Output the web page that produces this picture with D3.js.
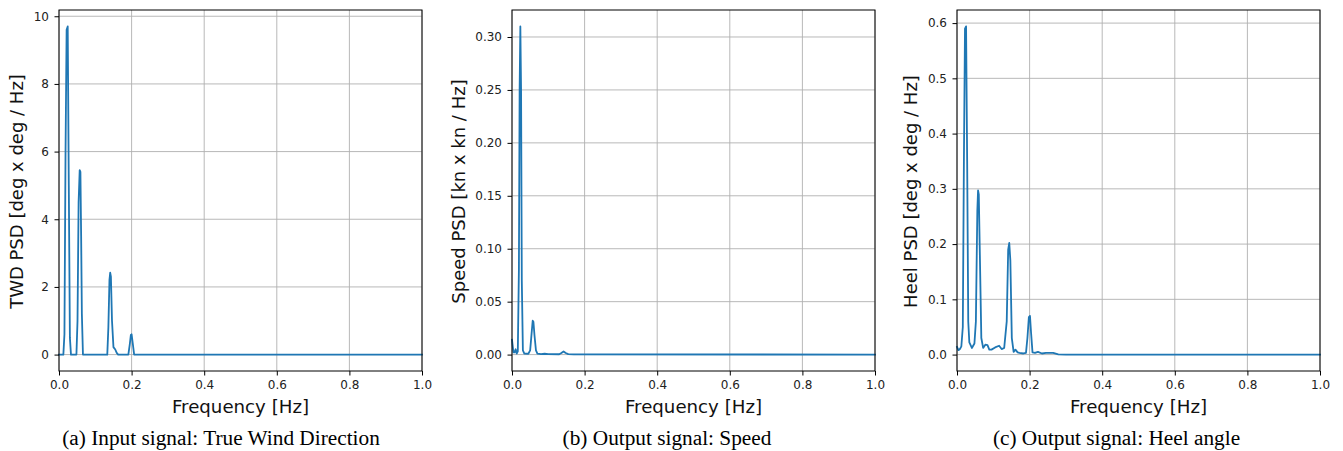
<!DOCTYPE html>
<html><head><meta charset="utf-8">
<script src="https://cdn.jsdelivr.net/npm/d3@7"></script>
<style>
html,body{margin:0;padding:0;background:#fff;}
svg{display:block;}
</style></head>
<body>
<svg id="chart" width="1343" height="451"></svg>
<script>
// ---- data ----
const xTicks = [0, 0.2, 0.4, 0.6, 0.8, 1.0];

const freqTWD = [0, 0.012, 0.015, 0.018, 0.021, 0.024, 0.027, 0.030, 0.033, 0.048, 0.051, 0.054, 0.057, 0.059, 0.061, 0.063, 0.066, 0.133, 0.136, 0.139, 0.141, 0.143, 0.146, 0.150, 0.155, 0.159, 0.163, 0.191, 0.195, 0.198, 0.200, 0.203, 0.207, 1.0];
const psdTWD  = [0, 0, 0.6, 6.0, 9.6, 9.7, 5.0, 0.5, 0, 0, 1.0, 4.5, 5.45, 5.4, 3.5, 1.2, 0, 0, 0.8, 2.2, 2.42, 2.3, 1.0, 0.22, 0.15, 0.05, 0, 0, 0.3, 0.58, 0.6, 0.35, 0, 0];
const yTicksTWD = [0, 2, 4, 6, 8, 10];

const freqSpeed = [0, 0.004, 0.007, 0.010, 0.013, 0.016, 0.019, 0.021, 0.023, 0.025, 0.027, 0.030, 0.034, 0.045, 0.050, 0.054, 0.057, 0.059, 0.062, 0.066, 0.070, 0.080, 0.090, 0.100, 0.130, 0.136, 0.142, 0.148, 0.155, 0.170, 1.0];
const psdSpeed  = [0.014, 0.002, 0.002, 0.005, 0.001, 0.003, 0.08, 0.25, 0.31, 0.25, 0.07, 0.004, 0.001, 0.0008, 0.004, 0.02, 0.032, 0.031, 0.018, 0.004, 0.001, 0.0005, 0.0008, 0.0005, 0.0003, 0.0015, 0.003, 0.0015, 0.0005, 0.0002, 0];
const yTicksSpeed = [0, 0.05, 0.10, 0.15, 0.20, 0.25, 0.30];

const freqHeel = [0, 0.004, 0.008, 0.012, 0.016, 0.019, 0.022, 0.025, 0.028, 0.031, 0.034, 0.041, 0.048, 0.052, 0.056, 0.058, 0.060, 0.063, 0.067, 0.072, 0.078, 0.084, 0.089, 0.095, 0.105, 0.116, 0.123, 0.130, 0.137, 0.141, 0.144, 0.147, 0.151, 0.156, 0.161, 0.167, 0.172, 0.183, 0.190, 0.194, 0.198, 0.201, 0.204, 0.208, 0.215, 0.223, 0.234, 0.245, 0.252, 0.265, 0.279, 0.300, 1.0];
const psdHeel  = [0.014, 0.008, 0.010, 0.015, 0.05, 0.35, 0.59, 0.594, 0.35, 0.06, 0.022, 0.012, 0.02, 0.06, 0.26, 0.297, 0.29, 0.18, 0.03, 0.012, 0.018, 0.017, 0.009, 0.009, 0.013, 0.016, 0.010, 0.012, 0.06, 0.19, 0.202, 0.17, 0.03, 0.005, 0.009, 0.004, 0.003, 0.002, 0.003, 0.03, 0.068, 0.07, 0.04, 0.004, 0.003, 0.005, 0.002, 0.003, 0.003, 0.003, 0.0005, 0, 0];
const yTicksHeel = [0, 0.1, 0.2, 0.3, 0.4, 0.5, 0.6];

const yLabels = ["TWD PSD [deg x deg / Hz]", "Speed PSD [kn x kn / Hz]", "Heel PSD [deg x deg / Hz]"];
const captions = ["(a) Input signal: True Wind Direction", "(b) Output signal: Speed", "(c) Output signal: Heel angle"];
const xLabel = "Frequency [Hz]";

// ---- drawing ----
(function () {
const svg = d3.select("#chart");
const panels = [
  {f: freqTWD, v: psdTWD, ticks: yTicksTWD, fmt: d3.format("d"), left: 59, ylabX: 23, capX: 221},
  {f: freqSpeed, v: psdSpeed, ticks: yTicksSpeed, fmt: d3.format(".2f"), left: 512, ylabX: 464.5, capX: 667},
  {f: freqHeel, v: psdHeel, ticks: yTicksHeel, fmt: d3.format(".1f"), left: 957, ylabX: 916.5, capX: 1116.5}
];
const W = 363, plotTop = 10, plotBottom = 371;

panels.forEach((p, i) => {
  const x = d3.scaleLinear().domain([0, 1]).range([p.left, p.left + W]);
  const mn = d3.min(p.v), mx = d3.max(p.v), m = (mx - mn) * 0.05;
  const y = d3.scaleLinear().domain([mn - m, mx + m]).range([plotBottom, plotTop]);
  const g = svg.append("g");

  // grid
  g.append("g").selectAll("line").data(xTicks).join("line")
    .attr("x1", d => x(d)).attr("x2", d => x(d)).attr("y1", plotTop).attr("y2", plotBottom)
    .attr("stroke", "#b0b0b0").attr("stroke-width", 0.9);
  g.append("g").selectAll("line").data(p.ticks).join("line")
    .attr("x1", p.left).attr("x2", p.left + W).attr("y1", d => y(d)).attr("y2", d => y(d))
    .attr("stroke", "#b0b0b0").attr("stroke-width", 0.9);

  // line
  const pts = p.f.map((f, k) => [f, p.v[k]]);
  g.append("path").datum(pts)
    .attr("d", d3.line().x(d => x(d[0])).y(d => y(d[1])))
    .attr("fill", "none").attr("stroke", "#1f77b4").attr("stroke-width", 1.8)
    .attr("stroke-linejoin", "round").attr("stroke-linecap", "square");

  // axes
  const xa = g.append("g").attr("transform", `translate(0,${plotBottom})`)
    .call(d3.axisBottom(x).tickValues(xTicks).tickFormat(d3.format(".1f")).tickSize(4.5).tickPadding(5));
  const ya = g.append("g").attr("transform", `translate(${p.left},0)`)
    .call(d3.axisLeft(y).tickValues(p.ticks).tickFormat(p.fmt).tickSize(4.5).tickPadding(5.5));
  [xa, ya].forEach(a => {
    a.select(".domain").remove();
    a.selectAll("text").attr("font-family", "DejaVu Sans").attr("font-size", 12).attr("fill", "#222");
    a.selectAll("line").attr("stroke", "#000").attr("stroke-width", 1);
  });

  // frame
  g.append("rect").attr("x", p.left).attr("y", plotTop).attr("width", W).attr("height", plotBottom - plotTop)
    .attr("fill", "none").attr("stroke", "#000").attr("stroke-width", 1);

  // labels
  const cx = p.left + W / 2;
  g.append("text").attr("x", cx).attr("y", 413).attr("text-anchor", "middle")
    .attr("font-family", "DejaVu Sans").attr("font-size", 18.2).attr("fill", "#111").text(xLabel);
  g.append("text").attr("transform", `translate(${p.ylabX},${(plotTop + plotBottom) / 2 + 1}) rotate(-90)`)
    .attr("text-anchor", "middle").attr("font-family", "DejaVu Sans").attr("font-size", 18)
    .attr("fill", "#111").text(yLabels[i]);
  g.append("text").attr("x", p.capX).attr("y", 445).attr("text-anchor", "middle")
    .attr("font-family", "Liberation Serif").attr("font-size", 21.3).attr("fill", "#000").text(captions[i]);
});
})();
</script>
</body></html>
